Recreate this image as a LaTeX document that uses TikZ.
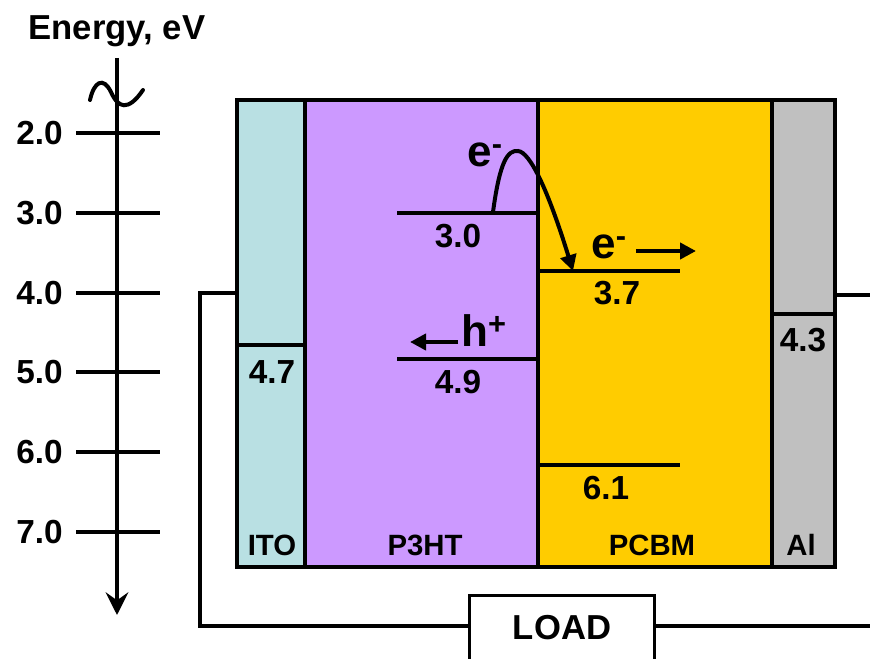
\documentclass[tikz,border=0pt]{standalone}
\usepackage{fontspec}
\setmainfont{Liberation Sans}
\usetikzlibrary{arrows.meta}
\definecolor{itoblue}{HTML}{B9E0E3}
\definecolor{ptviolet}{HTML}{CC99FF}
\definecolor{pcbmgold}{HTML}{FFCC00}
\definecolor{algrey}{HTML}{C0C0C0}
\begin{document}
\begin{tikzpicture}[x=0.75pt,y=-0.75pt,
  >={Triangle[length=12pt,width=12pt]},
  font=\bfseries,
  layer/.style={draw,line width=3.4pt},
  level/.style={line width=3.3pt},
  wire/.style={line width=2.4pt},
  numlab/.style={font=\bfseries\fontsize{25}{28}\selectfont,inner sep=0pt},
  carrier/.style={font=\bfseries\fontsize{33}{36}\selectfont,inner sep=0pt},
  layerlab/.style={font=\bfseries\fontsize{22}{25}\selectfont,inner sep=0pt}]

\clip (0,0) rectangle (870,659);

%--- Ось энергии ---
\node[font=\bfseries\fontsize{26}{30}\selectfont,inner sep=0pt] (title) at (117,31) {Energy, eV};
\draw[-{Stealth[length=17pt,width=17pt,inset=6pt]},line width=3.4pt] (117,58) -- (117,615);
\draw[line width=3pt,line cap=round] (90,100) .. controls (94,82) and (103,76) .. (111,92)
  .. controls (118,108) and (128,112) .. (143,90);

\foreach \v/\yy in {2.0/133,3.0/213,4.0/293,5.0/372,6.0/452,7.0/532}{
  \draw[level] (76,\yy) -- (160,\yy);
  \node[numlab,anchor=east] at (63,\yy) {\v};
}

%--- Слои ---
\filldraw[layer,fill=itoblue]   (237,100) rectangle (305,567);
\filldraw[layer,fill=ptviolet]  (305,100) rectangle (538,567);
\filldraw[layer,fill=pcbmgold]  (538,100) rectangle (772,567);
\filldraw[layer,fill=algrey]    (772,100) rectangle (835,567);
\draw[level] (237,345) -- (305,345);
\draw[level] (772,314) -- (835,314);

\node[layerlab] (ito)  at (272,545) {ITO};
\node[layerlab] (p3ht) at (425,545) {P3HT};
\node[layerlab] (pcbm) at (652,545) {PCBM};
\node[layerlab] (al)   at (801,545) {Al};

\node[numlab] (wito) at (272,372) {4.7};
\node[numlab] (wal)  at (803,340) {4.3};

%--- Уровни ---
\draw[level] (397,213) -- (538,213);
\draw[level] (397,359) -- (538,359);
\draw[level] (538,271) -- (680,271);
\draw[level] (538,465) -- (680,465);
\node[numlab] (lumo1) at (458,236) {3.0};
\node[numlab] (homo1) at (458,382) {4.9};
\node[numlab] (lumo2) at (617,293) {3.7};
\node[numlab] (homo2) at (606,488) {6.1};

%--- Носители ---
\node[carrier] (ejump) at (485,155) {e\textsuperscript{-}};
\draw[->,line width=3pt] (493,212) .. controls (500,160) and (508,150) .. (518,151)
  .. controls (530,152) and (548,190) .. (573,271);
\node[carrier] (eout) at (609,247) {e\textsuperscript{-}};
\draw[->,line width=3pt] (636,251) -- (696,251);
\node[carrier] (hout) at (484,331) {h\textsuperscript{+}};
\draw[->,line width=3pt] (458,342) -- (410,342);

%--- Цепь ---
\coordinate (itoW) at (237,293);
\coordinate (alE) at (835,295);
\coordinate (wireL) at (200,626);
\coordinate (wireR) at (870,626);
\node[minimum width=184*0.75pt,minimum height=64*0.75pt,
  font=\bfseries\fontsize{26}{30}\selectfont] (load) at (562,628) {LOAD};
\draw[wire] ([yshift=-20pt]load.south west) |- (load.north east)
  -- ([yshift=-20pt]load.south east);
\draw[wire] (itoW) -| (wireL) -- (wireL -| load.west);
\draw[wire] (load.east |- wireR) -- (wireR);
\draw[wire] (alE) -- (870,295);

\end{tikzpicture}
\end{document}
